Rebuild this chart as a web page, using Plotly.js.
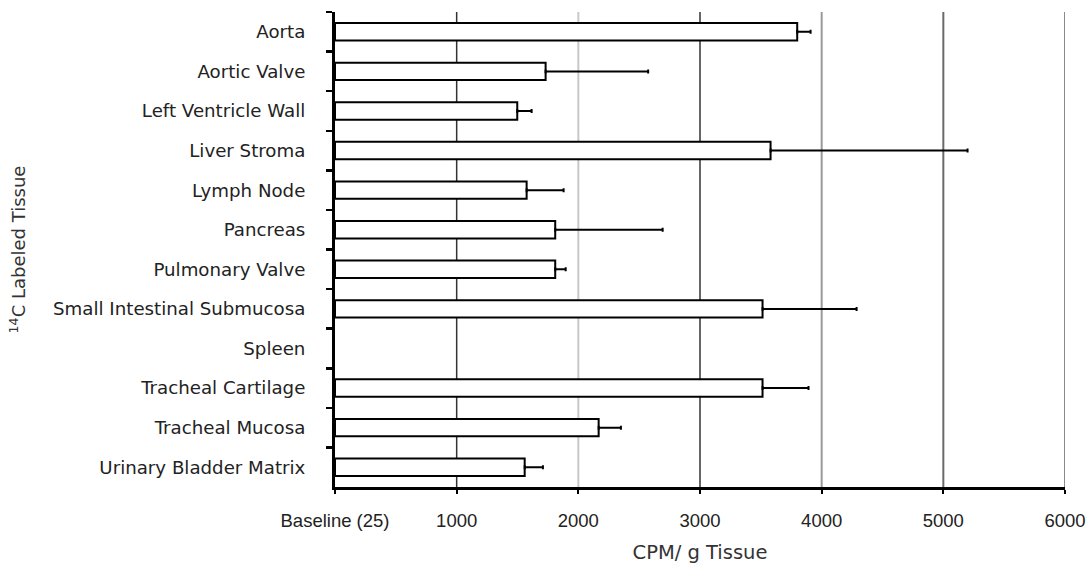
<!DOCTYPE html>
<html>
<head>
<meta charset="utf-8">
<script src="https://cdn.plot.ly/plotly-3.0.1.min.js"></script>
<style>html,body{margin:0;padding:0;background:#fff;}#chart{width:1091px;height:565px;}</style>
</head>
<body>
<div id="chart"></div>
<script>
const tissues = ["Aorta","Aortic Valve","Left Ventricle Wall","Liver Stroma","Lymph Node","Pancreas","Pulmonary Valve","Small Intestinal Submucosa","Spleen","Tracheal Cartilage","Tracheal Mucosa","Urinary Bladder Matrix"];
const cpm = [3799, 1731, 1498, 3580, 1575, 1810, 1810, 3514, null, 3514, 2167, 1559];
const cpmErr = [110, 843, 118, 1619, 304, 883, 86, 773, null, 378, 183, 150];
const xTickVals = [0, 1000, 2000, 3000, 4000, 5000, 6000];
const xTickText = ["Baseline (25)", "1000", "2000", "3000", "4000", "5000", "6000"];
const gridColors = ["rgba(0,0,0,0)", "#333333", "#c8c8c8", "#333333", "#999999", "#6a6a6a", "#8a8a8a"];
const gridWidths = [0, 1.5, 2, 1.5, 2, 2, 2];

const font = "DejaVu Sans, Liberation Sans, Arial, sans-serif";

const trace = {
  type: "bar",
  orientation: "h",
  y: tissues,
  x: cpm,
  width: 0.44,
  marker: {color: "#ffffff", line: {color: "#000000", width: 2}},
  error_x: {type: "data", symmetric: false, array: cpmErr, arrayminus: cpmErr.map(() => 0), color: "#000000", thickness: 2, width: 2},
  hoverinfo: "x+y"
};

const shapes = xTickVals.map((v, i) => ({
  type: "line", xref: "x", yref: "paper", x0: v, x1: v, y0: 0, y1: 1,
  line: {color: gridColors[i], width: gridWidths[i]}, layer: "below"
}));

const layout = {
  width: 1091, height: 565,
  margin: {l: 335, r: 26, t: 12, b: 78},
  paper_bgcolor: "#ffffff", plot_bgcolor: "#ffffff",
  showlegend: false,
  font: {family: font, size: 18, color: "#222222"},
  shapes: shapes,
  xaxis: {
    range: [0, 6000],
    tickvals: xTickVals, ticktext: xTickText,
    showgrid: false, zeroline: false,
    showline: true, linecolor: "#000000", linewidth: 3,
    ticks: "outside", ticklen: 4, tickwidth: 2, tickcolor: "#000000",
    ticklabelstandoff: 11,
    tickfont: {family: "Liberation Sans, Arial, sans-serif", size: 18.5, color: "#222222"},
    title: {text: "CPM/ g Tissue", font: {family: font, size: 19.5, color: "#333333"}, standoff: 16},
    fixedrange: true
  },
  yaxis: {
    type: "category",
    autorange: "reversed",
    showgrid: false, zeroline: false,
    showline: true, linecolor: "#000000", linewidth: 3,
    ticks: "outside", tickson: "boundaries", ticklen: 6, tickwidth: 2.5, tickcolor: "#000000",
    ticklabelstandoff: 23,
    tickfont: {family: font, size: 18.2, color: "#222222"},
    title: {text: "<sup>14</sup>C Labeled Tissue", font: {family: font, size: 18, color: "#333333"}, standoff: 23},
    automargin: false,
    fixedrange: true
  },
  bargap: 0.56
};

Plotly.newPlot("chart", [trace], layout, {displayModeBar: false, staticPlot: true});
</script>
</body>
</html>
